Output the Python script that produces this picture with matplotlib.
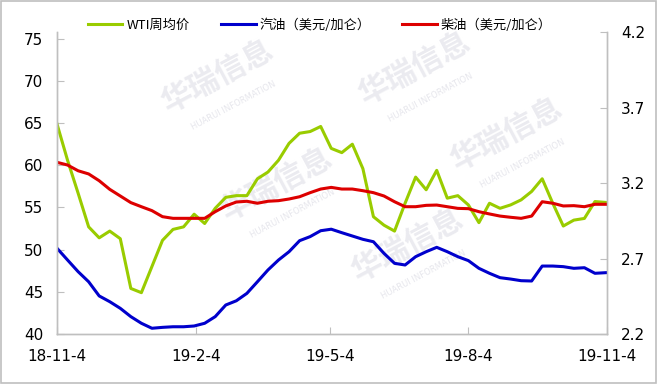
import pandas as pd
import matplotlib.pyplot as plt
from matplotlib.patches import Rectangle

plt.rcParams['font.family'] = ['DejaVu Sans', 'Noto Sans CJK SC']

# weekly data, 2018-11-04 .. 2019-11-03
dates = pd.date_range('2018-11-04', periods=53, freq='7D')

wti = [64.9, 60.6, 56.7, 52.7, 51.4, 52.2, 51.3, 45.4, 44.9, 48.0,
       51.1, 52.4, 52.7, 54.2, 53.1, 54.9, 56.2, 56.4, 56.4, 58.4,
       59.2, 60.6, 62.6, 63.8, 64.0, 64.6, 62.0, 61.5, 62.5, 59.6,
       53.9, 52.9, 52.2, 55.5, 58.6, 57.1, 59.4, 56.1, 56.4, 55.3,
       53.2, 55.5, 54.9, 55.3, 55.9, 56.9, 58.4, 55.5, 52.8, 53.5,
       53.7, 55.7, 55.6]

gasoline = [2.768, 2.690, 2.613, 2.546, 2.452, 2.414, 2.370, 2.315, 2.271, 2.238,
            2.244, 2.248, 2.248, 2.253, 2.271, 2.315, 2.392, 2.420, 2.469, 2.546,
            2.624, 2.690, 2.745, 2.818, 2.845, 2.884, 2.894, 2.871, 2.849, 2.827,
            2.811, 2.734, 2.668, 2.657, 2.712, 2.745, 2.774, 2.745, 2.712, 2.686,
            2.635, 2.602, 2.573, 2.564, 2.553, 2.551, 2.650, 2.650, 2.646, 2.635,
            2.639, 2.602, 2.606]

diesel = [3.337, 3.319, 3.281, 3.260, 3.215, 3.158, 3.114, 3.070, 3.043, 3.017,
          2.977, 2.966, 2.966, 2.966, 2.966, 3.010, 3.048, 3.074, 3.079, 3.066,
          3.079, 3.083, 3.094, 3.109, 3.136, 3.160, 3.171, 3.160, 3.160, 3.149,
          3.136, 3.114, 3.076, 3.043, 3.043, 3.052, 3.054, 3.043, 3.032, 3.030,
          3.010, 2.995, 2.981, 2.973, 2.966, 2.981, 3.076, 3.066, 3.048, 3.050,
          3.043, 3.059, 3.059]

labels = ['WTI周均价', '汽油（美元/加仑）', '柴油（美元/加仑）']
tick_dates = ['2018-11-04', '2019-02-04', '2019-05-04', '2019-08-04', '2019-11-04']
tick_labels = ['18-11-4', '19-2-4', '19-5-4', '19-8-4', '19-11-4']

fig = plt.figure(figsize=(6.57, 3.84), dpi=100)
fig.patches.append(Rectangle((0.001, 0.002), 0.997, 0.995, transform=fig.transFigure,
                             fill=False, edgecolor='#bfbfbf', lw=1.2))

# watermark (behind the lines)
for (wx, wy) in [(0.33, 0.80), (0.63, 0.82), (0.42, 0.52), (0.77, 0.65), (0.62, 0.36)]:
    fig.text(wx, wy, '华瑞信息', fontsize=22, fontweight='bold', color='#ebebf0',
             rotation=28, ha='center', va='center', family=['Noto Sans CJK SC'], zorder=-1)
    fig.text(wx + 0.025, wy - 0.075, 'HUARUI INFORMATION', fontsize=6, color='#e6e6ec',
             rotation=28, ha='center', va='center', zorder=-1)

ax = fig.add_axes([57 / 657, 50 / 384, 550 / 657, 302 / 384])
ax.patch.set_alpha(0)
ax2 = ax.twinx()

l1, = ax.plot(dates, wti, color='#99cc00', lw=2.2, label=labels[0])
l2, = ax2.plot(dates, gasoline, color='#0000cc', lw=2.2, label=labels[1])
l3, = ax2.plot(dates, diesel, color='#dd0000', lw=2.2, label=labels[2])

ax.set_xlim(pd.Timestamp('2018-11-04'), pd.Timestamp('2019-11-04'))
ax.set_ylim(40, 75.8)
ax.set_yticks([40, 45, 50, 55, 60, 65, 70, 75])
ax2.set_ylim(2.2, 4.2)
ax2.set_yticks([2.2, 2.7, 3.2, 3.7, 4.2])
ax2.set_yticklabels(['2.2', '2.7', '3.2', '3.7', '4.2'])
ax.set_xticks(pd.to_datetime(tick_dates))
ax.set_xticklabels(tick_labels)

for a in (ax, ax2):
    a.spines['top'].set_visible(False)
    for s in ('left', 'right', 'bottom'):
        a.spines[s].set_color('#bfbfbf')
        a.spines[s].set_linewidth(1.0)
    a.tick_params(direction='in', length=5, color='#bfbfbf', labelsize=11, labelcolor='black')
ax.tick_params(axis='y', pad=10)
ax2.tick_params(axis='y', pad=10)
ax.tick_params(axis='x', pad=11)

fig.legend(handles=[l1, l2, l3], loc='center', bbox_to_anchor=(320 / 657, 1 - 25 / 384),
           ncol=3, frameon=False, handlelength=2.6, columnspacing=2.4, handletextpad=0.3,
           prop={'family': ['Noto Sans CJK SC', 'DejaVu Sans'], 'size': 9.5})

fig.savefig('out.png', dpi=100)
